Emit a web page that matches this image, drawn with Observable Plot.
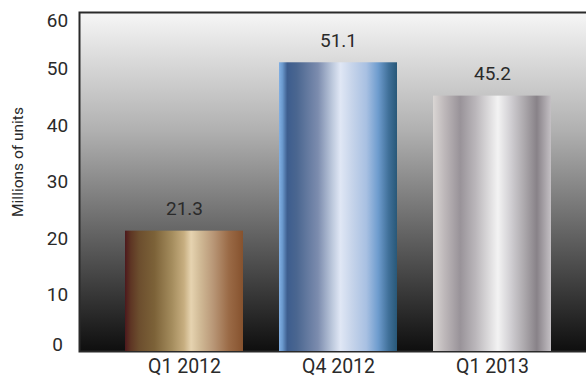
<!DOCTYPE html>
<html>
<head>
<meta charset="utf-8">
<script src="https://cdn.jsdelivr.net/npm/d3@7"></script>
<script src="https://cdn.jsdelivr.net/npm/@observablehq/plot@0.6"></script>
<style>
  html, body { margin: 0; padding: 0; background: #fff; }
  #chart svg { display: block; overflow: hidden; }
</style>
</head>
<body>
<div id="chart"></div>
<script>
// ---- data ----
const categories = ["Q1 2012", "Q4 2012", "Q1 2013"];
const values = [21.3, 51.1, 45.2];
const valueLabels = ["21.3", "51.1", "45.2"];
const yTicks = [0, 10, 20, 30, 40, 50, 60];
const yTitle = "Millions of units";

// ---- styles (gradients) ----
const gradientIds = ["gGold", "gBlue", "gSilver"];
const gradientStops = {
  gGold: [[0, "#4d181c"], [0.05, "#5e3624"], [0.12, "#6c4e2e"], [0.25, "#7c6238"], [0.4, "#a58d5e"], [0.5, "#c7ae80"], [0.56, "#e6d3b0"], [0.63, "#d2bc98"], [0.75, "#b89676"], [0.88, "#9a6a46"], [1, "#86522e"]],
  gBlue: [[0, "#82b0e4"], [0.03, "#6a98cc"], [0.07, "#3d5d8e"], [0.15, "#4a6690"], [0.33, "#7c8cae"], [0.45, "#bcc8dc"], [0.52, "#e0e7f5"], [0.62, "#c6d4ea"], [0.74, "#a8c0e2"], [0.84, "#6e9cce"], [0.93, "#3f6f98"], [1, "#285878"]],
  gSilver: [[0, "#dad6d4"], [0.1, "#bdb7b9"], [0.23, "#999399"], [0.36, "#bab6ba"], [0.55, "#f3f3f3"], [0.66, "#d0ced2"], [0.78, "#aaa6aa"], [0.88, "#888288"], [1, "#c4c0c4"]]
};
const bgStops = [[0, "#f6f6f6"], [0.35, "#b0b0b0"], [0.65, "#646464"], [1, "#0e0e0e"]];

const data = categories.map((c, i) => ({cat: c, value: values[i], label: valueLabels[i]}));

const W = 586, H = 378;
const font = "Roboto, 'Open Sans', sans-serif";
const fs = 19;
const ink = "#2a2a2a";

const plot = Plot.plot({
  width: W,
  height: H,
  marginLeft: 79,
  marginRight: -3,
  marginTop: 12,
  marginBottom: 27,
  style: {fontFamily: font, fontSize: fs + "px", color: ink, background: "transparent"},
  x: {domain: categories, range: [105.8, 569.2], paddingInner: 0.236, paddingOuter: 0.118, label: null},
  y: {domain: [0, 60], label: null},
  color: {domain: categories, range: gradientIds.map(id => `url(#${id})`)},
  marks: [
    Plot.frame({fill: "url(#gBg)", stroke: "#2a2a2a", strokeWidth: 2}),
    Plot.barY(data, {x: "cat", y: "value", fill: "cat"}),
    Plot.text(data, {x: "cat", y: "value", text: "label", dy: -22, fill: ink, fontSize: fs}),
    Plot.axisX({tickSize: 0, tickPadding: 8, fontSize: 19.5, fill: ink, label: null}),
    Plot.axisY(yTicks.filter(t => t !== 0 && t !== 60), {tickSize: 0, tickPadding: 22, textAnchor: "middle", fontSize: fs, fill: ink, label: null}),
    Plot.axisY([0], {tickSize: 0, tickPadding: 22, textAnchor: "middle", fontSize: fs, fill: ink, dy: -7, label: null}),
    Plot.axisY([60], {tickSize: 0, tickPadding: 22, textAnchor: "middle", fontSize: fs, fill: ink, dy: 8, label: null}),
    Plot.text([yTitle], {frameAnchor: "left", textAnchor: "middle", rotate: -90, dx: -61, dy: -20, fontSize: 15.5, fill: ink})
  ]
});

// gradient defs
const svg = d3.select(plot);
const defs = svg.insert("defs", ":first-child");
for (const id of gradientIds) {
  const g = defs.append("linearGradient").attr("id", id).attr("x1", "0").attr("y1", "0").attr("x2", "1").attr("y2", "0");
  for (const [o, c] of gradientStops[id]) g.append("stop").attr("offset", o).attr("stop-color", c);
}
const bg = defs.append("linearGradient").attr("id", "gBg").attr("x1", "0").attr("y1", "0").attr("x2", "0").attr("y2", "1");
for (const [o, c] of bgStops) bg.append("stop").attr("offset", o).attr("stop-color", c);

document.getElementById("chart").appendChild(plot);
</script>
</body>
</html>
